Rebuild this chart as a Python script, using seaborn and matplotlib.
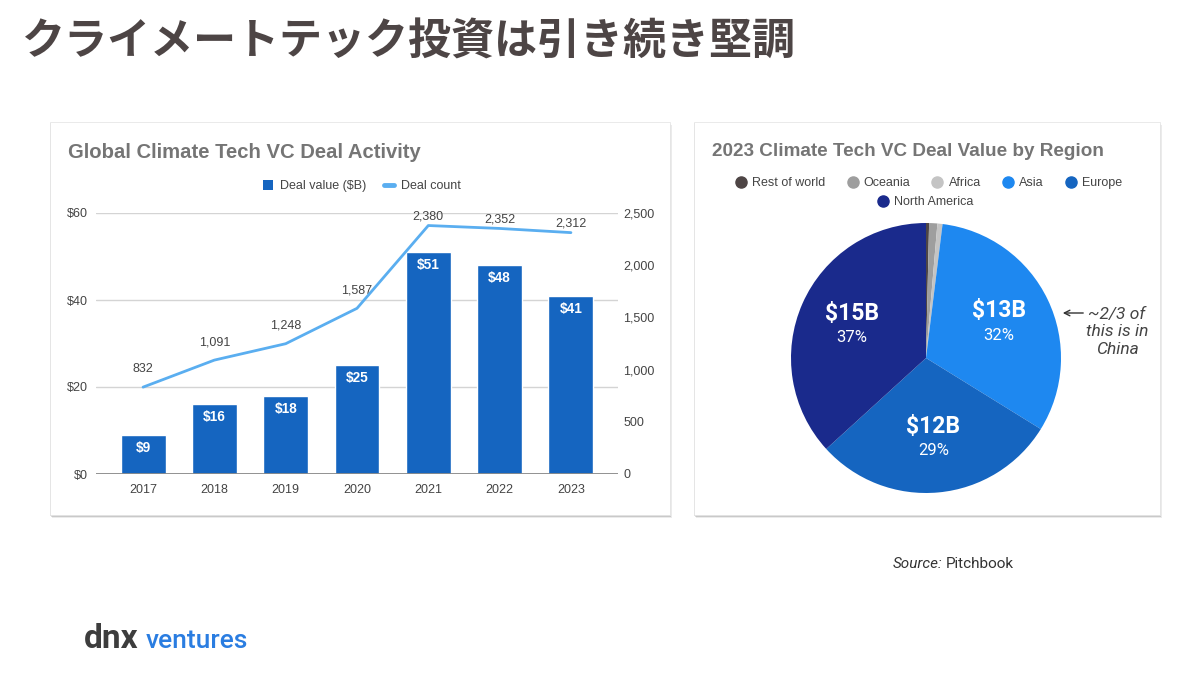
import matplotlib
matplotlib.use("Agg")
import matplotlib.pyplot as plt
import numpy as np
import pandas as pd
import seaborn as sns
from matplotlib.patches import Rectangle, Patch, FancyArrowPatch
from matplotlib.lines import Line2D

# ---- data ----
years = ["2017", "2018", "2019", "2020", "2021", "2022", "2023"]
deal_value = [9, 16, 18, 25, 51, 48, 41]
deal_count = [832, 1091, 1248, 1587, 2380, 2352, 2312]

regions = ["Rest of world", "Oceania", "Africa", "Asia", "Europe", "North America"]
region_value = [0.15, 0.4, 0.25, 13, 12, 15]
region_label = ["", "", "", "$13B", "$12B", "$15B"]
region_pct = ["", "", "", "32%", "29%", "37%"]

BAR_BLUE = "#1565c0"
LINE_BLUE = "#5aaef0"
region_colors = ["#4e4545", "#9e9e9e", "#c4c4c4", "#1e88f0", "#1565c0", "#1a2a8c"]
TXT = "#444444"

sns.set_theme(style="white")
plt.rcParams["font.family"] = ["Liberation Sans", "DejaVu Sans"]

W, H = 1200, 673
fig = plt.figure(figsize=(W / 100, H / 100), dpi=100)
fig.patch.set_facecolor("white")


def fx(x):
    return x / W


def fy(y):
    return 1 - y / H


def card(x0, y0, x1, y1):
    # soft shadow then white card, both under the axes
    for i, a in enumerate([0.08, 0.14, 0.20]):
        off = 3 - i
        fig.patches.append(Rectangle((fx(x0 + off - 1), fy(y1 + off)), fx(x1 - x0), (y1 - y0) / H,
                                     transform=fig.transFigure, facecolor="#000000", alpha=a,
                                     edgecolor="none", zorder=-3))
    fig.patches.append(Rectangle((fx(x0), fy(y1)), fx(x1 - x0), (y1 - y0) / H,
                                 transform=fig.transFigure, facecolor="white",
                                 edgecolor="#e6e6e6", lw=0.6, zorder=-2))


card(50, 122, 670, 515)
card(694, 122, 1160, 515)

# ---- main title ----
fig.text(fx(22), fy(42), "クライメートテック投資は引き続き堅調", family=["Noto Sans CJK JP", "DejaVu Sans"],
         fontsize=31, fontweight="bold", color="#4d4545", va="center", ha="left")

# ---- bar + line chart ----
ax = fig.add_axes([fx(96), fy(474), fx(522), 261 / H])
ax.set_facecolor("none")
df = pd.DataFrame({"year": years, "value": deal_value, "count": deal_count})
sns.barplot(data=df, x="year", y="value", color=BAR_BLUE, width=0.63, saturation=1, ax=ax, zorder=3)
ax.set_xlim(-0.66, 6.66)
ax.set_ylim(0, 60)
ax.set_yticks([0, 20, 40, 60])
ax.set_yticklabels(["$0", "$20", "$40", "$60"])
ax.grid(axis="y", color="#d4d4d4", lw=1, zorder=0)
ax.axhline(0, color="#8a8a8a", lw=1.3, zorder=4)
for s in ax.spines.values():
    s.set_visible(False)
ax.tick_params(axis="both", length=0, labelsize=9, labelcolor=TXT)
ax.tick_params(axis="y", pad=6)
ax.tick_params(axis="x", pad=7)
ax.set_xlabel("")
ax.set_ylabel("")
for i, v in enumerate(deal_value):
    ax.annotate(f"${v}", (i, v), xytext=(0, -13), textcoords="offset pixels", ha="center", va="center",
                color="white", fontsize=9.8, fontweight="bold", zorder=5)

ax2 = ax.twinx()
sns.lineplot(x=np.arange(len(years)), y=deal_count, color=LINE_BLUE, lw=2, ax=ax2, zorder=6)
ax2.set_ylim(0, 2500)
ax2.set_yticks([0, 500, 1000, 1500, 2000, 2500])
ax2.set_yticklabels([f"{t:,}" for t in [0, 500, 1000, 1500, 2000, 2500]])
ax2.tick_params(axis="y", length=0, labelsize=9, labelcolor=TXT, pad=4)
for s in ax2.spines.values():
    s.set_visible(False)
ax2.set_ylabel("")
for i, c in enumerate(deal_count):
    off = 9 if c > 2200 else 18
    ax2.annotate(f"{c:,}", (i, c), xytext=(0, off), textcoords="offset pixels", ha="center", va="center",
                 color=TXT, fontsize=9)

fig.text(fx(68), fy(153), "Global Climate Tech VC Deal Activity", fontsize=14.6, fontweight="bold",
         color="#757575", va="center")
h1 = [Patch(facecolor=BAR_BLUE, edgecolor="none"), Line2D([], [], color=LINE_BLUE, lw=3.5)]
fig.legend(h1, ["Deal value ($B)", "Deal count"], loc="center", bbox_to_anchor=(fx(362), fy(186)),
           ncol=2, frameon=False, fontsize=9, labelcolor=TXT, handlelength=0.8, handleheight=0.8,
           columnspacing=1.4, handletextpad=0.6)

# ---- pie chart ----
pax = fig.add_axes([fx(926 - 135), fy(358 + 135), fx(270), 270 / H])
wedges, _ = pax.pie(region_value, colors=region_colors, startangle=90, counterclock=False,
                    wedgeprops=dict(edgecolor="none"))
pax.set_xlim(-1, 1)
pax.set_ylim(-1, 1)
pax.set_aspect("equal")
for w, lab, pct in zip(wedges, region_label, region_pct):
    if not lab:
        continue
    ang = np.deg2rad((w.theta1 + w.theta2) / 2)
    cx, cy = 0.6 * np.cos(ang), 0.6 * np.sin(ang)
    pax.text(cx, cy + 0.09, lab, ha="center", va="center", color="white", fontsize=16.5,
             fontweight="bold", family="Roboto")
    pax.text(cx, cy - 0.09, pct, ha="center", va="center", color="white", fontsize=12, family="Roboto")

fig.text(fx(712), fy(152), "2023 Climate Tech VC Deal Value by Region", fontsize=13.6, fontweight="bold",
         color="#757575", va="center")
hp = [Line2D([], [], marker="o", ls="none", markersize=8, color=c) for c in region_colors]
fig.legend(hp[:5], regions[:5], loc="center", bbox_to_anchor=(fx(929), fy(183)), ncol=5, frameon=False,
           fontsize=9, labelcolor=TXT, handlelength=0.8, handletextpad=0.5, columnspacing=1.75)
fig.legend(hp[5:], regions[5:], loc="center", bbox_to_anchor=(fx(926), fy(202)), ncol=1, frameon=False,
           fontsize=9, labelcolor=TXT, handlelength=0.8, handletextpad=0.5)

# annotation for Asia
fig.text(fx(1117), fy(332), "~2/3 of\nthis is in\nChina", fontsize=12.5, style="italic", family="Roboto",
         color=TXT, ha="center", va="center", linespacing=1.25)
fig.patches.append(FancyArrowPatch((fx(1086), fy(313)), (fx(1060), fy(313)),
                                   transform=fig.transFigure, arrowstyle="->",
                                   mutation_scale=10, color="#333333", lw=1))

# ---- source and logo ----
fig.text(fx(893), fy(564), "Source:", fontsize=11, style="italic", family="Roboto", color="#333333",
         va="center")
fig.text(fx(946), fy(564), "Pitchbook", fontsize=11, family="Roboto", color="#333333", va="center")
fig.text(fx(84), fy(648), "dnx", fontsize=24, fontweight="bold", family="Roboto", color="#3d3d3d",
         va="baseline")
fig.text(fx(146), fy(648), "ventures", fontsize=19, fontweight="medium", family="Roboto",
         color="#2a7de1", va="baseline")

fig.savefig("out.png", dpi=100, facecolor="white")
